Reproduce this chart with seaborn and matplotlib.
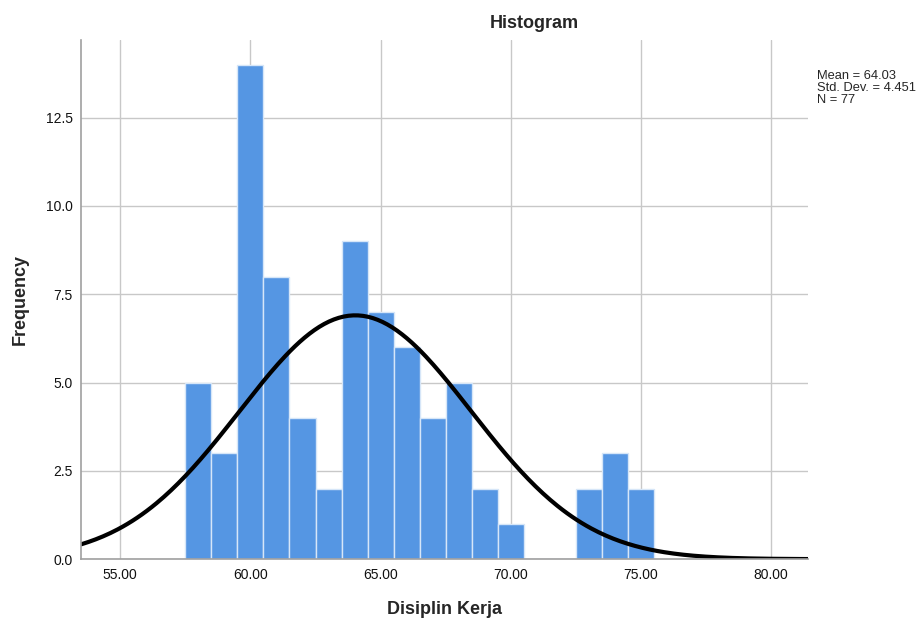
import numpy as np
import pandas as pd
import matplotlib
matplotlib.use("Agg")
import matplotlib.pyplot as plt
import seaborn as sns

# values (bin centres, counts per bin)
scores = [58, 59, 60, 61, 62, 63, 64, 65, 66, 67, 68, 69, 70, 71, 72, 73, 74, 75]
counts = [5, 3, 14, 8, 4, 2, 9, 7, 6, 4, 5, 2, 1, 0, 0, 2, 3, 2]
mean_val = 64.03
std_val = 4.451
n_obs = 77
x_ticks = [55, 60, 65, 70, 75, 80]
y_ticks = [0.0, 2.5, 5.0, 7.5, 10.0, 12.5]

sns.set_theme(style="white")
plt.rcParams['font.family'] = ['Liberation Sans', 'DejaVu Sans']

df = pd.DataFrame({"score": scores, "count": counts})
bin_width = 1.0

fig = plt.figure(figsize=(9.22, 6.22), dpi=100)
ax = fig.add_axes([0.088, 0.101, 0.788, 0.835])

ax.set_xticks(x_ticks)
ax.set_xticklabels([f"{t:.2f}" for t in x_ticks])
ax.set_yticks(y_ticks)
ax.set_yticklabels([f"{t:.1f}" for t in y_ticks])
ax.grid(True, color="#c8c8c8", linewidth=1.0)
ax.set_axisbelow(True)

sns.histplot(data=df, x="score", weights="count", discrete=True, ax=ax,
             color="#5596e3", edgecolor="#d6e6f8", linewidth=1.0, alpha=1.0)

# normal curve scaled to counts
xs = np.linspace(53.5, 81.4, 300)
ys = n_obs * bin_width / (std_val * np.sqrt(2 * np.pi)) * np.exp(-0.5 * ((xs - mean_val) / std_val) ** 2)
sns.lineplot(x=xs, y=ys, ax=ax, color="black", linewidth=3)

ax.set_xlim(53.5, 81.4)
ax.set_ylim(0, 14.7)

for side in ["top", "right"]:
    ax.spines[side].set_visible(False)
for side in ["left", "bottom"]:
    ax.spines[side].set_color("#a0a0a0")
    ax.spines[side].set_linewidth(1.2)

ax.tick_params(axis="both", labelsize=10, colors="#111111", length=0, pad=6)
ax.set_xlabel("Disiplin Kerja", fontsize=13, fontweight="bold", labelpad=14)
ax.set_ylabel("Frequency", fontsize=13, fontweight="bold", labelpad=12)

fig.text(0.58, 0.962, "Histogram", ha="center", va="center", fontsize=13, fontweight="bold")
fig.text(0.886, 0.888, f"Mean = {mean_val:.2f}\nStd. Dev. = {std_val:.3f}\nN = {n_obs}",
         ha="left", va="top", fontsize=9.3, linespacing=1.0)

fig.savefig("out.png", dpi=100)
